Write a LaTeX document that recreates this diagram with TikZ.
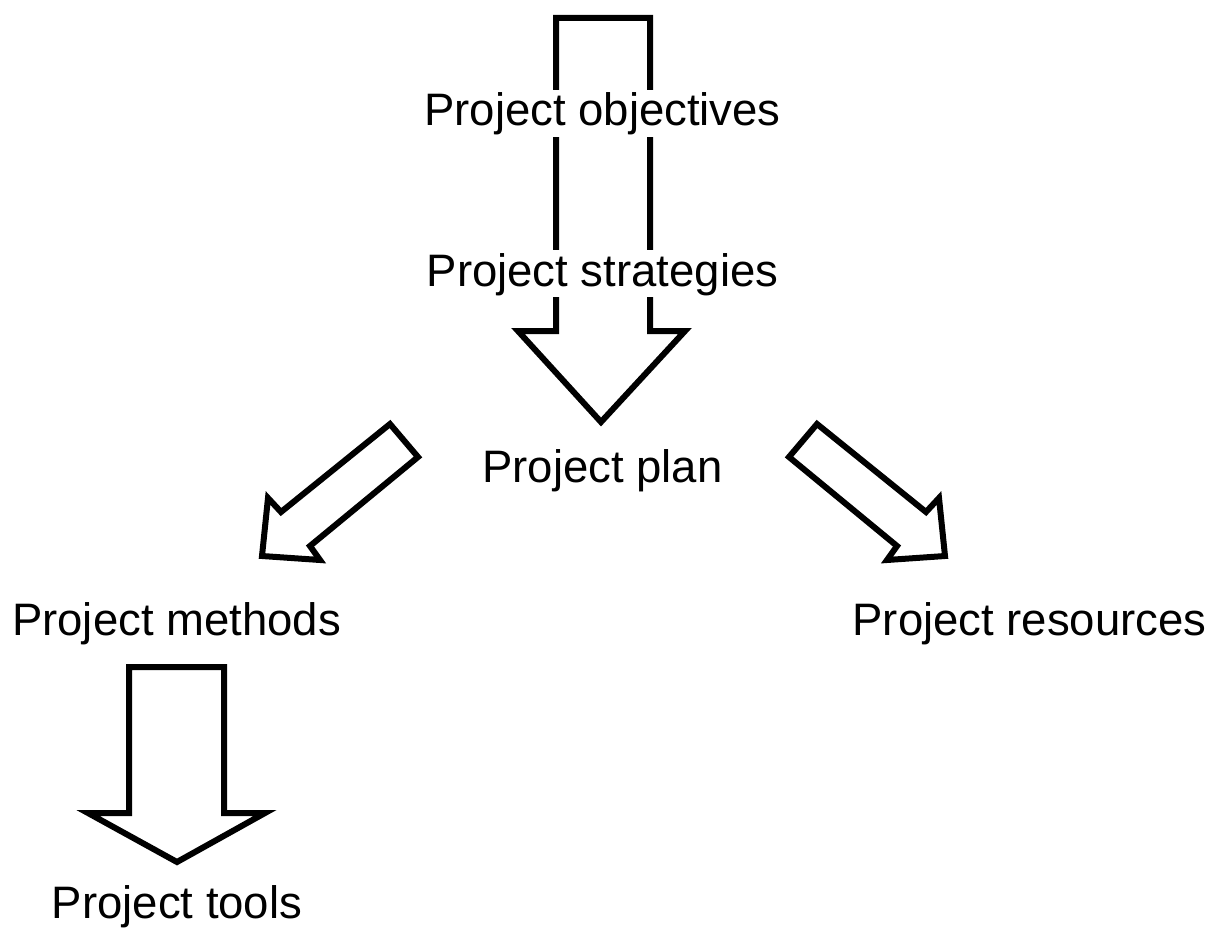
\documentclass[tikz,border=0pt]{standalone}
\usepackage{fontspec}
\setmainfont{Liberation Sans}
\begin{document}
\begin{tikzpicture}[x=1pt,y=-1pt,
  blockarrow/.style={draw=black,line width=6pt,line join=miter,fill=white},
  label/.style={anchor=base,inner xsep=0pt,inner ysep=0pt,font=\fontsize{45.5}{50}\selectfont},
  gaplabel/.style={label,fill=white,text height=36pt,text depth=11pt}]
\useasboundingbox (0,0) rectangle (1214,928);

% main downward arrow: objectives -> strategies -> plan
\draw[blockarrow] (556,18) -- (650,18) -- (650,331) -- (685,331) -- (601,422)
  -- (518,331) -- (556,331) -- cycle;
\node[gaplabel] (obj) at (602.5,126) {Project objectives};
\node[gaplabel] (str) at (602.5,286) {Project strategies};
\node[label] (plan) at (602.5,482) {Project plan};

% diagonal arrows from the plan
\draw[blockarrow] (390,424) -- (418,457) -- (310,546) -- (320,560) -- (262,556)
  -- (268,498) -- (281,512) -- cycle;
\draw[blockarrow] (817,424) -- (789,457) -- (897,546) -- (887,560) -- (945,556)
  -- (939,498) -- (926,512) -- cycle;
\node[label] (meth) at (176.5,635) {Project methods};
\node[label] (res) at (1029.5,635) {Project resources};

% methods -> tools
\draw[blockarrow] (129,667) -- (224,667) -- (224,813) -- (265,813) -- (177,862)
  -- (88,813) -- (129,813) -- cycle;
\node[label] (tools) at (177,918) {Project tools};
\end{tikzpicture}
\end{document}
